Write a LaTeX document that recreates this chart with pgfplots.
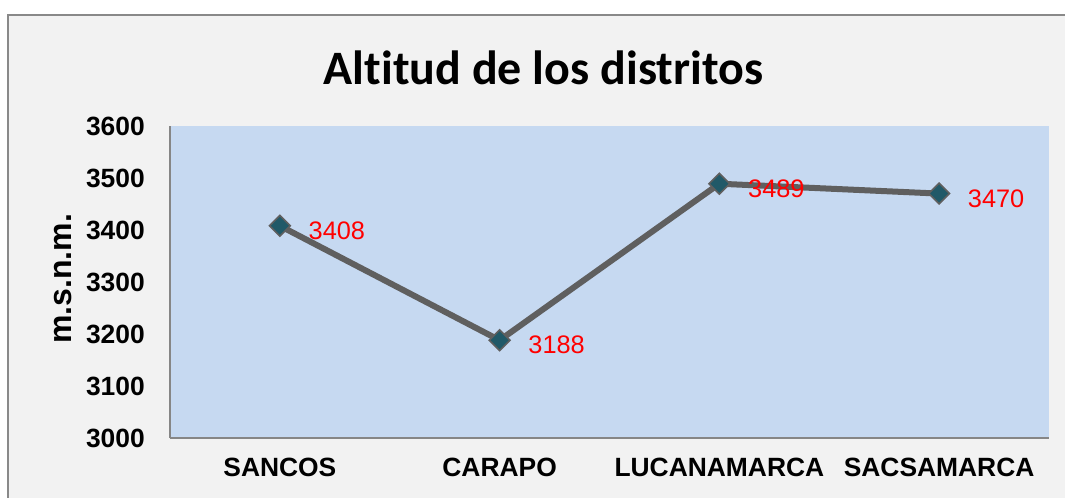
\documentclass[border=0pt]{standalone}
\usepackage{fontspec}
\setmainfont{Liberation Sans}
\newfontfamily\carlito[Ligatures=NoCommon]{Carlito}
\usepackage{pgfplots}
\pgfplotsset{compat=1.18}
\definecolor{plotbg}{HTML}{C6D9F1}
\definecolor{chartbg}{HTML}{F2F2F2}
\definecolor{framegray}{HTML}{898989}
\definecolor{axgray}{HTML}{868686}
\definecolor{linegray}{HTML}{5F5F5F}
\definecolor{markteal}{HTML}{215968}
\begin{document}
\begin{tikzpicture}[x=0.75pt,y=0.75pt]
\clip (0,0) rectangle (1065,497);
\draw[framegray, line width=1.5pt, fill=chartbg] (8,482) rectangle (1090,-30);
\node[font=\carlito\bfseries\fontsize{36}{40}\selectfont] at (543.5,429) {Altitud de los distritos};
\node[rotate=90, font=\bfseries\fontsize{24}{26}\selectfont] at (63,218) {m.s.n.m.};
\begin{axis}[
  at={(127.5pt,44.25pt)}, anchor=south west,
  scale only axis, width=659.25pt, height=234pt,
  xmin=0, xmax=4, ymin=3000, ymax=3600,
  xtick={0.5,1.5,2.5,3.5},
  xticklabels={SANCOS,CARAPO,LUCANAMARCA,SACSAMARCA},
  ytick={3000,3100,3200,3300,3400,3500,3600},
  major tick length=0pt,
  axis x line*=bottom, axis y line*=left,
  axis line style={draw=axgray, line width=1.5pt, -},
  axis background/.style={fill=plotbg},
  /pgf/number format/1000 sep={},
  /pgf/number format/assume math mode=true,
  tick label style={font=\bfseries\fontsize{19.8}{22}\selectfont},
  yticklabel style={inner sep=0pt, xshift=-18.75pt},
  xticklabel style={anchor=north, inner sep=0pt, yshift=-15pt},
  nodes near coords,
  nodes near coords style={anchor=west, xshift=21pt, yshift=-3.75pt, text=red, inner sep=0pt, font=\fontsize{19}{20}\selectfont},
  clip=false,
]
\addplot[color=linegray, line width=4.5pt, mark=square*, mark size=5.5pt,
  mark options={rotate=45, fill=markteal, draw=linegray, line width=1.2pt}]
  coordinates {(0.5,3408) (1.5,3188) (2.5,3489) (3.5,3470)};
\end{axis}
\end{tikzpicture}
\end{document}
